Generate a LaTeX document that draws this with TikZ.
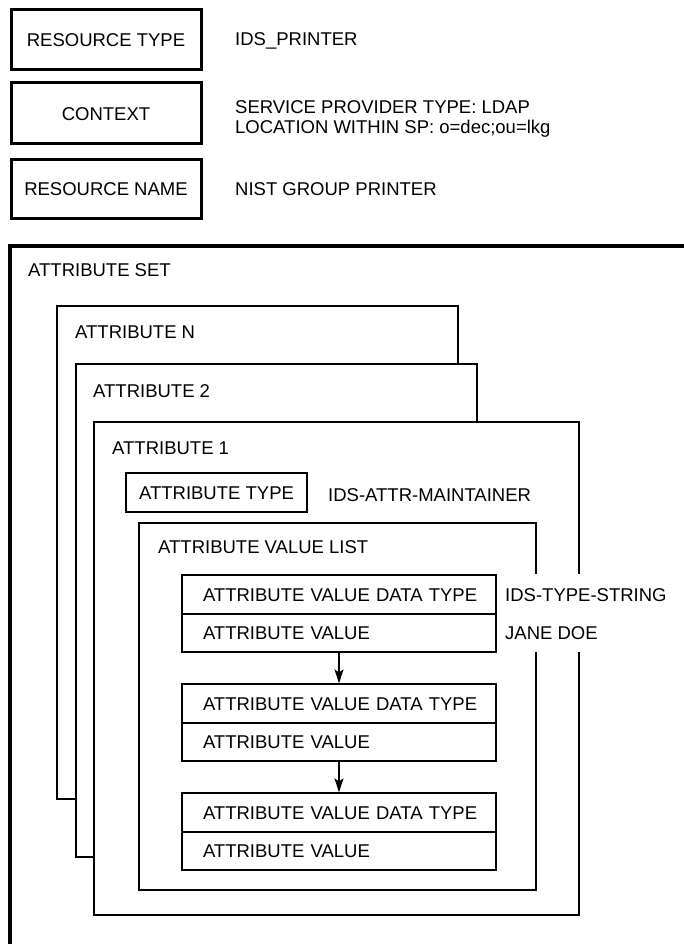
\documentclass[tikz,border=0pt]{standalone}
\usepackage{fontspec}
\setmainfont{Liberation Sans}
\usetikzlibrary{arrows.meta}
\begin{document}
\begin{tikzpicture}[x=1pt,y=-1pt,
  every node/.style={font=\fontsize{18.5pt}{22pt}\selectfont, text height=13.3pt, text depth=0pt},
  topbox/.style={draw, line width=3pt, minimum width=190pt, inner sep=0pt},
  lbl/.style={anchor=west, inner sep=0pt},
  attrbox/.style={draw, fill=white, line width=1.7pt},
  listbox/.style={draw, fill=white, line width=1.4pt},
  typebox/.style={draw, line width=1.5pt, minimum width=181pt, minimum height=39pt, inner sep=0pt},
  vcell/.style={draw, line width=1.7pt, minimum height=38.5pt, text width=314pt, inner xsep=0pt, inner ysep=0pt, align=left, execute at begin node={\hspace*{21pt}}},
  link/.style={line width=1.5pt, -{Stealth[length=14pt,width=9pt,inset=3pt]}}]
\useasboundingbox (0,0) rectangle (683,944);
\fill[white] (0,0) rectangle (683,944);

% header boxes
\node[topbox, minimum height=60pt] (rtype) at (106,40) {RESOURCE TYPE};
\node[topbox, minimum height=61pt] (ctx) at (106,113.5) {CONTEXT};
\node[topbox, minimum height=58pt] (rname) at (106,189) {RESOURCE NAME};
\node[lbl] (rtypev) at (235,39) {IDS\_PRINTER};
\node[lbl] (ctxv1) at (235,107) {SERVICE PROVIDER TYPE: LDAP};
\node[lbl] (ctxv2) at (235,127) {LOCATION WITHIN SP: o=dec;ou=lkg};
\node[lbl] (rnamev) at (235,189) {NIST GROUP PRINTER};

% attribute set (open to the right and bottom)
\draw[line width=3.5pt, line join=miter] (700,246) -- (10,246) -- (10,960);
\node[lbl] (setlbl) at (28,270) {ATTRIBUTE SET};

% stacked attributes
\draw[attrbox] (57,306) rectangle (458,799);
\node[lbl] (attrN) at (75,332) {ATTRIBUTE N};
\draw[attrbox] (76,364) rectangle (477,857);
\node[lbl] (attr2) at (93,391) {ATTRIBUTE 2};
\draw[attrbox] (94,422) rectangle (579,915);
\node[lbl] (attr1) at (112,448) {ATTRIBUTE 1};

% attribute type
\node[typebox] (atype) at (216.5,492.5) {ATTRIBUTE TYPE};
\node[lbl] (atypev) at (328,495) {IDS-ATTR-MAINTAINER};

% attribute value list
\draw[listbox] (139,523) rectangle (536,890);
\node[lbl] (avl) at (158,547) {ATTRIBUTE VALUE LIST};

% gap in the right edges behind the value labels
\fill[white] (499,574) rectangle (600,652);

% value entries
\node[vcell] (dt1) at (339,594.5) {ATTRIBUTE VALUE DATA TYPE};
\node[vcell] (av1) at (339,633) {ATTRIBUTE VALUE};
\node[vcell] (dt2) at (339,703.5) {ATTRIBUTE VALUE DATA TYPE};
\node[vcell] (av2) at (339,742) {ATTRIBUTE VALUE};
\node[vcell] (dt3) at (339,812.5) {ATTRIBUTE VALUE DATA TYPE};
\node[vcell] (av3) at (339,851) {ATTRIBUTE VALUE};

\node[lbl] (dt1v) at (505,595) {IDS-TYPE-STRING};
\node[lbl] (av1v) at (505,633) {JANE DOE};

\draw[link] (av1.south) -- (dt2.north);
\draw[link] (av2.south) -- (dt3.north);
\end{tikzpicture}
\end{document}
